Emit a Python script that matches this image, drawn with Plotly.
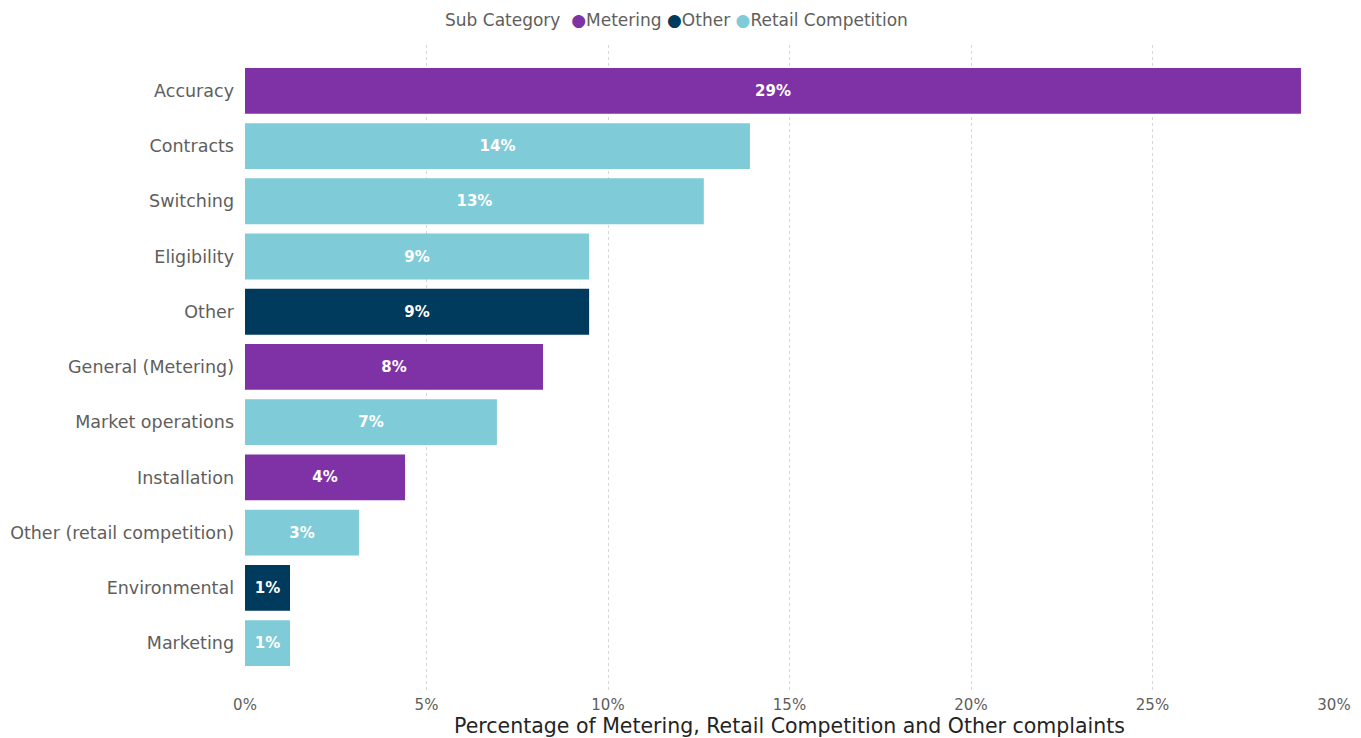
import plotly.graph_objects as go

categories = [
    "Accuracy", "Contracts", "Switching", "Eligibility", "Other",
    "General (Metering)", "Market operations", "Installation",
    "Other (retail competition)", "Environmental", "Marketing",
]
sub_category = [
    "Metering", "Retail Competition", "Retail Competition", "Retail Competition", "Other",
    "Metering", "Retail Competition", "Metering",
    "Retail Competition", "Other", "Retail Competition",
]
share = [0.2909, 0.1391, 0.1264, 0.0948, 0.0948, 0.0821, 0.0694, 0.0441, 0.0314, 0.0124, 0.0124]

groups = ["Metering", "Other", "Retail Competition"]
colors = {"Metering": "#7F31A6", "Other": "#003A5D", "Retail Competition": "#80CBD8"}

FONT = "DejaVu Sans"
GREY = "#605E5C"

fig = go.Figure()
for g in groups:
    ys = [c for c, s in zip(categories, sub_category) if s == g]
    xs = [v for v, s in zip(share, sub_category) if s == g]
    fig.add_trace(go.Bar(
        y=ys, x=xs, name=g, orientation="h", showlegend=False,
        marker=dict(color=colors[g], line=dict(width=0)),
        texttemplate="%{x:.0%}", textposition="inside", insidetextanchor="middle",
        textfont=dict(color="white", size=15, family=FONT, weight="bold"),
        constraintext="none",
    ))

# compact legend line with round swatches
legend_text = "Sub Category  " + " ".join(
    f"<span style='color:{colors[g]}'>●</span>{g}" for g in groups
)
fig.add_annotation(
    text=legend_text, xref="paper", yref="paper", x=0.396, y=1.0388,
    xanchor="center", yanchor="middle", showarrow=False,
    font=dict(size=17, color=GREY, family=FONT),
)

n = len(categories)
fig.update_layout(
    width=1361, height=738,
    margin=dict(l=245, r=27, t=45, b=48, autoexpand=False),
    paper_bgcolor="white", plot_bgcolor="white",
    barmode="overlay", bargap=0.17,
    font=dict(family=FONT, color=GREY, size=15),
    showlegend=False,
    xaxis=dict(
        range=[0, 0.30], tickvals=[0, 0.05, 0.10, 0.15, 0.20, 0.25, 0.30],
        tickformat=".0%", showgrid=True, gridcolor="#D6D6D6", griddash="dot",
        gridwidth=1, zeroline=False, showline=False, ticks="",
        ticklabelstandoff=4,
        tickfont=dict(size=15, color=GREY),
        title=dict(text="Percentage of Metering, Retail Competition and Other complaints",
                   font=dict(size=20.5, color="#252423"), standoff=5),
    ),
    yaxis=dict(
        categoryorder="array", categoryarray=categories[::-1],
        range=[-0.85, n - 1 + 0.83],
        showgrid=False, zeroline=False, showline=False, ticks="",
        ticklabelstandoff=10,
        tickfont=dict(size=17.5, color=GREY),
    ),
)

fig.write_html("out.html")
